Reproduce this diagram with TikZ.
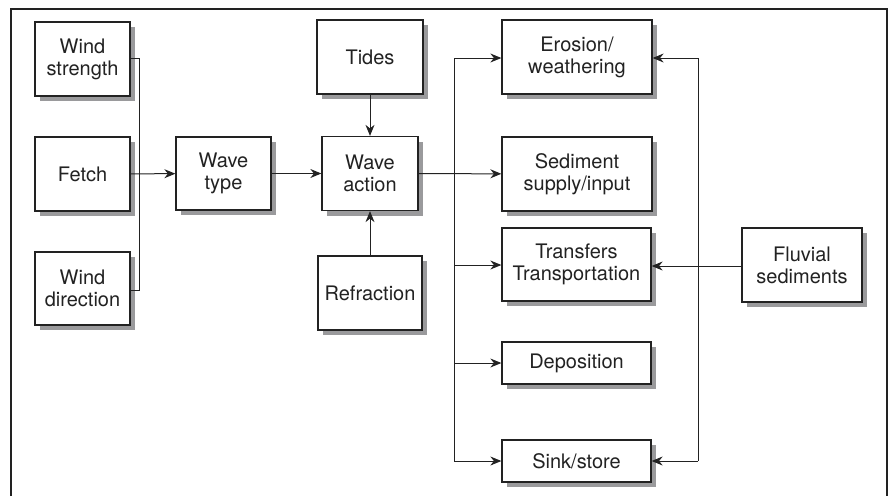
\documentclass[tikz,border=0pt]{standalone}
\usepackage{fontspec}
\setmainfont{TeX Gyre Heros}
\usetikzlibrary{arrows.meta,shadows}
\definecolor{ink}{HTML}{222222}
\definecolor{shade}{HTML}{9A9A9C}
\tikzset{
  box/.style={draw=ink, line width=1.3pt, fill=white, align=center, text=ink,
    font=\fontsize{20}{22}\selectfont, inner sep=0pt,
    drop shadow={shadow xshift=5pt, shadow yshift=-5pt, fill=shade, opacity=1}},
  conn/.style={draw=ink, line width=1pt},
  arr/.style={conn, -{Stealth[length=11pt,width=9pt]}},
}
\begin{document}
\begin{tikzpicture}[x=1pt,y=-1pt]
\useasboundingbox (0,0) rectangle (889,496);
\draw[ink, line width=2.2pt] (11,496) -- (11,9) -- (887,9) -- (887,496);

\node[box, minimum width=95, minimum height=74] (ws) at (82.5,59) {Wind\\strength};
\node[box, minimum width=95, minimum height=74] (fe) at (82.5,174) {Fetch};
\node[box, minimum width=95, minimum height=73] (wd) at (82.5,288.5) {Wind\\direction};
\node[box, minimum width=95, minimum height=73] (wt) at (223.5,173.5) {Wave\\type};
\node[box, minimum width=106, minimum height=74] (ti) at (370,57) {Tides};
\node[box, minimum width=96, minimum height=74] (wa) at (370,173.5) {Wave\\action};
\node[box, minimum width=104, minimum height=74] (re) at (370,293) {Refraction};
\node[box, minimum width=150, minimum height=74] (er) at (577,57) {Erosion/\\weathering};
\node[box, minimum width=150, minimum height=74] (se) at (577,174) {Sediment\\supply/input};
\node[box, minimum width=149, minimum height=73] (tr) at (576.5,264.5) {Transfers\\Transportation};
\node[box, minimum width=149, minimum height=42] (de) at (576.5,363) {Deposition};
\node[box, minimum width=149, minimum height=42] (si) at (576.5,461) {Sink/store};
\node[box, minimum width=120, minimum height=74] (fl) at (802,265) {Fluvial\\sediments};

\coordinate (b1) at (139,58);
\coordinate (b2) at (139,290);
\draw[conn] (ws.east |- b1) -- (b1) -- (b2) -- (wd.east |- b2);
\draw[arr] (fe) -- (wt);
\draw[arr] (wt) -- (wa);
\draw[arr] (ti) -- (wa);
\draw[arr] (re) -- (wa);
\draw[arr] (wa) -- (se);

\coordinate (l1) at (454,58);
\coordinate (l2) at (454,461);
\draw[conn] (l1) -- (l2);
\draw[arr] (l1) -- (er.west |- l1);
\draw[arr] (454,265) -- (tr.west |- 0,265);
\draw[arr] (454,363) -- (de.west);
\draw[arr] (l2) -- (si.west |- l2);

\coordinate (r1) at (698,58);
\coordinate (r2) at (698,461);
\draw[conn] (r1) -- (r2);
\draw[arr] (r1) -- (er.east |- r1);
\draw[arr] (r2) -- (si.east |- r2);
\draw[arr] (fl.west |- 0,266) -- (tr.east |- 0,266);
\end{tikzpicture}
\end{document}
